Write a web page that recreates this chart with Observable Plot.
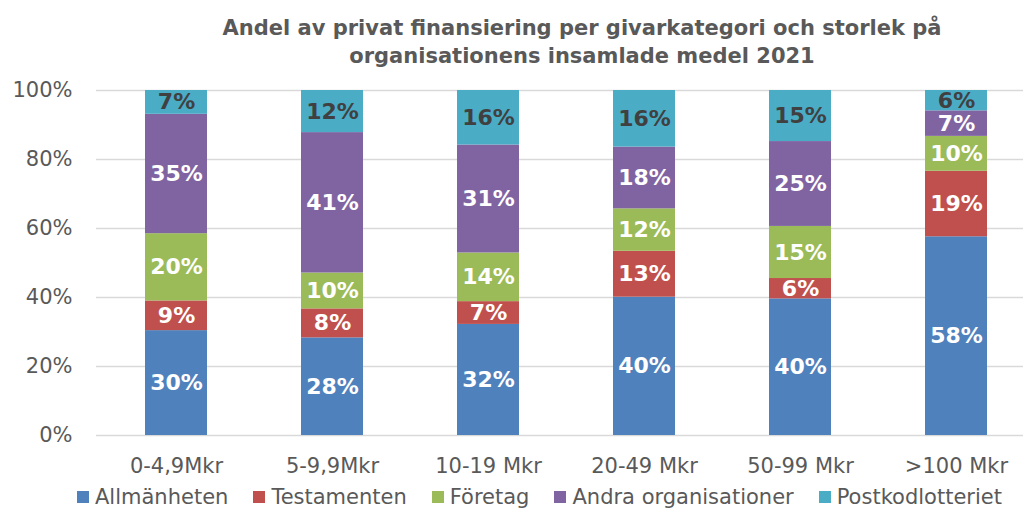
<!DOCTYPE html>
<html>
<head>
<meta charset="utf-8">
<script src="https://cdn.jsdelivr.net/npm/d3@7"></script>
<script src="https://cdn.jsdelivr.net/npm/@observablehq/plot@0.6"></script>
<style>
  html, body { margin: 0; padding: 0; background: #fff; }
  body { width: 1023px; height: 510px; overflow: hidden; position: relative; font-family: "DejaVu Sans", Verdana, sans-serif; }
  #title { position: absolute; left: 0; top: 14px; width: 1164px; text-align: center; font-weight: bold; font-size: 21px; line-height: 28px; color: #595959; }
  #chart { position: absolute; left: 0; top: 72px; }
  #legend { position: absolute; left: 77px; top: 485px; display: flex; gap: 25px; font-size: 21px; line-height: 24px; color: #595959; white-space: nowrap; }
  .item { display: flex; align-items: center; gap: 6px; }
  .sw { width: 12px; height: 12px; display: inline-block; }
</style>
</head>
<body>
<div id="title">Andel av privat finansiering per givarkategori och storlek på<br>organisationens insamlade medel 2021</div>
<div id="chart"></div>
<div id="legend"></div>
<script>
const categories = ["0-4,9Mkr", "5-9,9Mkr", "10-19 Mkr", "20-49 Mkr", "50-99 Mkr", ">100 Mkr"];
const seriesNames = ["Allmänheten", "Testamenten", "Företag", "Andra organisationer", "Postkodlotteriet"];
const seriesColors = ["#4F81BD", "#C0504D", "#9BBB59", "#8064A2", "#4BACC6"];
const allmanheten = [30.4, 28.3, 32.2, 40.1, 39.6, 57.6];
const testamenten = [8.6, 8.4, 6.6, 13.3, 5.9, 19.0];
const foretag = [19.5, 10.4, 14.1, 12.3, 15.1, 10.1];
const andraOrg = [34.6, 40.7, 31.3, 17.9, 24.6, 7.4];
const postkod = [6.9, 12.2, 15.8, 16.4, 14.8, 5.9];
const yTicks = [0, 20, 40, 60, 80, 100];

const seriesValues = [allmanheten, testamenten, foretag, andraOrg, postkod];
const data = [];
seriesNames.forEach((s, i) => {
  categories.forEach((c, j) => {
    data.push({cat: c, series: s, value: seriesValues[i][j]});
  });
});

const chart = Plot.plot({
  width: 1023,
  height: 410,
  marginLeft: 96,
  marginRight: 0,
  marginTop: 18,
  marginBottom: 47,
  style: {fontFamily: "'DejaVu Sans', Verdana, sans-serif", fontSize: "21px", color: "#595959", background: "white"},
  x: {domain: categories, range: [96, 1036], paddingInner: 0.604, paddingOuter: 0.302, label: null},
  y: {domain: [0, 100], label: null},
  color: {domain: seriesNames, range: seriesColors},
  marks: [
    Plot.ruleY(yTicks, {stroke: "#d9d9d9", strokeWidth: 1.5}),
    Plot.barY(data, {x: "cat", y: "value", fill: "series", order: seriesNames}),
    Plot.text(data, Plot.stackY({
      x: "cat", y: "value", z: "series", order: seriesNames,
      text: d => Math.round(d.value) + "%",
      fill: d => d.series === "Postkodlotteriet" ? "#404040" : "#ffffff",
      fontWeight: "bold", fontSize: 22
    })),
    Plot.axisY(yTicks, {tickSize: 0, tickPadding: 24, tickFormat: d => d + "%", label: null, fill: "#595959"}),
    Plot.axisX({tickSize: 0, tickPadding: 23, label: null, fill: "#595959"})
  ]
});
document.getElementById("chart").appendChild(chart);

const legend = document.getElementById("legend");
seriesNames.forEach((s, i) => {
  const item = document.createElement("div");
  item.className = "item";
  const sw = document.createElement("span");
  sw.className = "sw";
  sw.style.background = seriesColors[i];
  const t = document.createElement("span");
  t.textContent = s;
  item.appendChild(sw);
  item.appendChild(t);
  legend.appendChild(item);
});
</script>
</body>
</html>
